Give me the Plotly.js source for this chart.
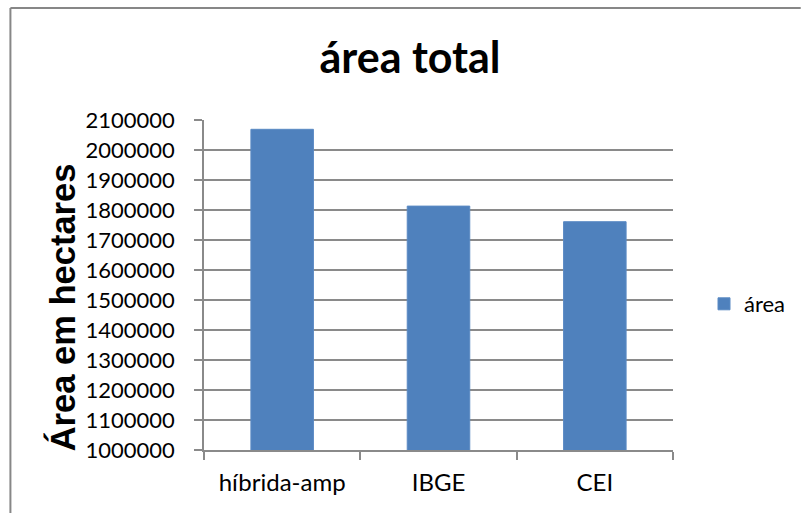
<!DOCTYPE html>
<html>
<head>
<meta charset="utf-8">
<script src="https://cdn.plot.ly/plotly-3.0.1.min.js"></script>
<style>
  html, body { margin: 0; padding: 0; background: #ffffff; }
  #chart { width: 802px; height: 513px; }
</style>
</head>
<body>
<div id="chart"></div>
<script>
const categories = ["híbrida-amp", "IBGE", "CEI"];
const areaValues = [2069000, 1813000, 1761000];
const seriesName = "área";
const chartTitle = "área total";
const yAxisTitle = "Área em hectares";
const yTickValues = [1000000, 1100000, 1200000, 1300000, 1400000, 1500000, 1600000, 1700000, 1800000, 1900000, 2000000, 2100000];

const W = 802, H = 513;
const mL = 204, mR = 128, mT = 120, mB = 63;
const pw = W - mL - mR, ph = H - mT - mB;
const px = x => (x - mL) / pw;
const py = y => (H - mB - y) / ph;

const gridCol = "#8a8a8a";
const bodyFont = "Lato, 'Liberation Sans', sans-serif";

const trace = {
  type: "bar",
  x: categories,
  y: areaValues,
  name: seriesName,
  marker: { color: "#4f81bd", line: { color: "#5b8ac4", width: 1 } },
  showlegend: true,
  hoverinfo: "x+y"
};

const layout = {
  width: W, height: H,
  margin: { l: mL, r: mR, t: mT, b: mB, pad: 0 },
  paper_bgcolor: "#ffffff",
  plot_bgcolor: "#ffffff",
  font: { family: bodyFont, size: 23, color: "#000000" },
  title: {
    text: "<b>" + chartTitle + "</b>",
    font: { family: bodyFont, size: 43, color: "#000000" },
    x: 410 / W, xref: "container", xanchor: "center",
    y: 1 - 58 / H, yref: "container", yanchor: "middle"
  },
  bargap: 0.6,
  xaxis: {
    type: "category",
    showline: true, linecolor: gridCol, linewidth: 1.5,
    ticks: "outside", tickson: "boundaries", ticklen: 8, tickwidth: 1.5, tickcolor: gridCol,
    showgrid: false,
    ticklabelstandoff: 10,
    tickfont: { family: bodyFont, size: 24, color: "#000000" },
    fixedrange: true
  },
  yaxis: {
    range: [1000000, 2100000],
    tickvals: yTickValues,
    ticktext: yTickValues.map(v => String(v)),
    showline: true, linecolor: gridCol, linewidth: 1.5,
    ticks: "outside", ticklen: 8, tickwidth: 1.5, tickcolor: gridCol,
    showgrid: true, gridcolor: gridCol, gridwidth: 1.5,
    zeroline: false,
    ticklabelstandoff: 15,
    tickfont: { family: bodyFont, size: 22, color: "#000000" },
    fixedrange: true
  },
  legend: {
    x: px(704), xanchor: "left",
    y: py(304), yanchor: "middle",
    bgcolor: "rgba(0,0,0,0)",
    font: { family: bodyFont, size: 22, color: "#000000" }
  },
  annotations: [
    {
      text: "<b>" + yAxisTitle + "</b>",
      xref: "paper", yref: "paper",
      x: px(62), y: py(307),
      xanchor: "center", yanchor: "middle",
      textangle: -90, showarrow: false,
      font: { family: "'Liberation Sans', Arial, sans-serif", size: 34.5, color: "#000000" }
    }
  ],
  shapes: [
    { type: "line", xref: "paper", yref: "paper", x0: px(10), x1: px(802), y0: py(8), y1: py(8), line: { color: "#878787", width: 2 } },
    { type: "line", xref: "paper", yref: "paper", x0: px(10), x1: px(10), y0: py(8), y1: py(513), line: { color: "#878787", width: 2 } }
  ]
};

Plotly.newPlot("chart", [trace], layout, { displayModeBar: false });
</script>
</body>
</html>
